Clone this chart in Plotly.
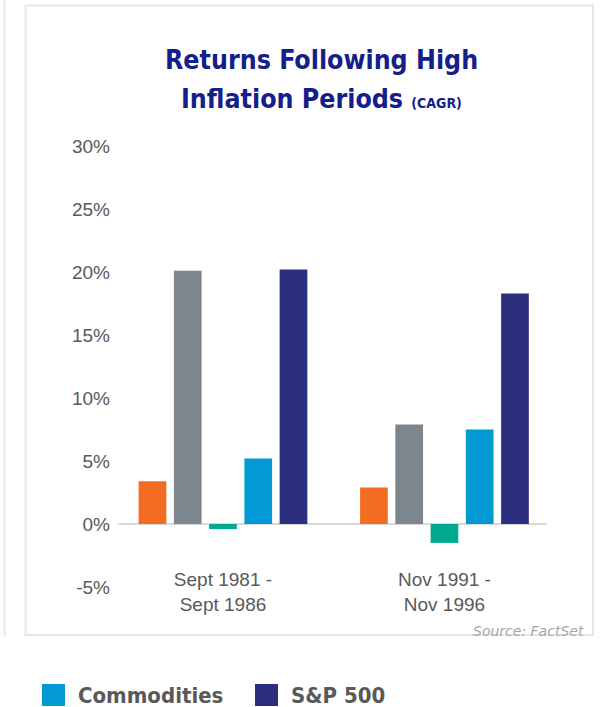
import plotly.graph_objects as go

# ---- data ----
categories = ["Sept 1981 -<br>Sept 1986", "Nov 1991 -<br>Nov 1996"]
series_names = ["Gold", "Real Estate", "Bonds", "Commodities", "S&P 500"]
series_values = [
    [3.4, 2.9],     # orange
    [20.1, 7.9],    # gray
    [-0.4, -1.5],   # teal
    [5.2, 7.5],     # blue (Commodities)
    [20.2, 18.3],   # navy (S&P 500)
]
series_colors = ["#F26D21", "#7D868C", "#00A98F", "#0399D5", "#2B2F7E"]
legend_shown = ["Commodities", "S&P 500"]
y_ticks = [-5, 0, 5, 10, 15, 20, 25, 30]
y_ticklabels = [f"{t}%" for t in y_ticks]

W, H = 606, 707
L, R, T, B = 118, 59, 146, 120
PW, PH = W - L - R, H - T - B


def px(x):
    return (x - L) / PW


def py(y):
    return (H - B - y) / PH


fig = go.Figure()
for name, vals, col in zip(series_names, series_values, series_colors):
    fig.add_trace(go.Bar(x=categories, y=vals, name=name,
                         marker=dict(color=col, line=dict(width=0)),
                         showlegend=False))

axis_font = dict(family="Liberation Sans, Arial, sans-serif", size=19, color="#595959")
fig.update_layout(
    width=W, height=H,
    margin=dict(l=L, r=R, t=T, b=B),
    paper_bgcolor="white", plot_bgcolor="white",
    barmode="group", bargap=0.204, bargroupgap=0.214,
    xaxis=dict(range=[-0.474, 1.463], showgrid=False, showline=False, ticks="",
               tickfont=axis_font, ticklabelstandoff=-21, fixedrange=True),
    yaxis=dict(range=[-5, 30], tickvals=y_ticks, ticktext=y_ticklabels,
               showgrid=False, showline=False, ticks="", tickfont=axis_font,
               zeroline=True, zerolinecolor="#D9D9D9", zerolinewidth=1.5,
               ticklabelstandoff=7),
    showlegend=False,
)

shapes = []
# panel border
shapes.append(dict(type="rect", xref="paper", yref="paper",
                   x0=px(25.5), x1=px(593), y0=py(635), y1=py(5.5),
                   line=dict(color="#E6E6E6", width=2), layer="below"))
# neighbouring panel edge
shapes.append(dict(type="line", xref="paper", yref="paper",
                   x0=px(4.5), x1=px(4.5), y0=py(636), y1=py(0),
                   line=dict(color="#E8E8E8", width=2), layer="below"))

annotations = []
title_font = dict(family="DejaVu Sans Condensed, DejaVu Sans, sans-serif", size=26.5, color="#13208A")
annotations.append(dict(xref="paper", yref="paper", x=px(321), y=py(60),
                        text="<b>Returns Following High</b>", showarrow=False,
                        font=title_font, xanchor="center", yanchor="middle"))
annotations.append(dict(xref="paper", yref="paper", x=px(321), y=py(98),
                        text="<b>Inflation Periods <span style='font-size:14px'>(CAGR)</span></b>",
                        showarrow=False, font=title_font, xanchor="center", yanchor="middle"))
# source
annotations.append(dict(xref="paper", yref="paper", x=px(586), y=py(631),
                        text="<i>Source: FactSet</i>", showarrow=False,
                        font=dict(family="DejaVu Sans, sans-serif", size=14, color="#A6A6A6"),
                        xanchor="right", yanchor="middle"))

# legend (only the visible entries)
legend_x = [42, 255]
for lx, name in zip(legend_x, legend_shown):
    col = series_colors[series_names.index(name)]
    shapes.append(dict(type="rect", xref="paper", yref="paper",
                       x0=px(lx), x1=px(lx + 23), y0=py(706), y1=py(684),
                       fillcolor=col, line=dict(width=0)))
    annotations.append(dict(xref="paper", yref="paper", x=px(lx + 34), y=py(695),
                            text=f"<b>{name}</b>", showarrow=False,
                            font=dict(family="DejaVu Sans Condensed, DejaVu Sans, sans-serif",
                                      size=22, color="#595959"),
                            xanchor="left", yanchor="middle"))

fig.update_layout(shapes=shapes, annotations=annotations)
fig.write_html("out.html", config={"displayModeBar": False})
